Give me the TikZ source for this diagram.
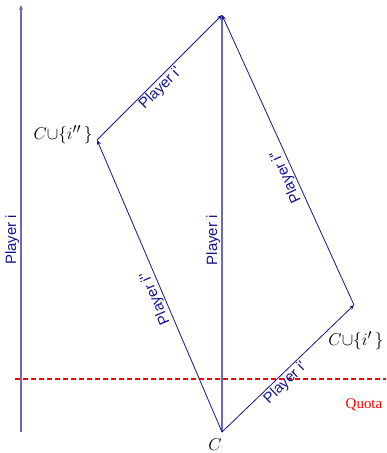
\documentclass[tikz,border=0pt]{standalone}
\usepackage{fontspec}
\setmainfont{Liberation Serif}
\newfontfamily\sansf{Liberation Sans}
\usetikzlibrary{arrows.meta}
\tikzset{
  x=1bp, y=-1bp,
  diag/.style={draw={rgb,255:red,20;green,20;blue,140}, line width=0.8bp, -{Stealth[length=5bp,width=4bp]}},
  vert/.style={draw={rgb,255:red,105;green,105;blue,190}, line width=1.6bp, -{Stealth[length=5bp,width=4bp]}},
  plabel/.style={text={rgb,255:red,20;green,20;blue,140}, font=\sansf\fontsize{15}{17}\selectfont, inner sep=1.5bp},
  mlabel/.style={font=\fontsize{19}{21}\selectfont, inner sep=0pt},
  quotaline/.style={draw=red, line width=1.1bp, dash pattern=on 5bp off 3bp},
}
\begin{document}
\begin{tikzpicture}
\useasboundingbox (0,0) rectangle (386,453);
\coordinate (axB) at (21,432);
\coordinate (axT) at (21,5);
\coordinate (C) at (222,432);
\coordinate (T) at (222,15);
\coordinate (A2) at (97,140);
\coordinate (A1) at (354,305);
\coordinate (qL) at (15,379);
\coordinate (qR) at (386,379);

% quota line
\path[quotaline] (qL) -- (qR);

% axis
\draw[vert] (axB) -- (axT);
\path (axB) -- (axT) node[pos=0.45, rotate=90, anchor=south, plabel] {Player i};

% central vertical
\draw[vert] (C) -- (T);
\path (C) -- (T) node[pos=0.46, rotate=90, anchor=south, plabel] {Player i};

% diagonals
\draw[diag] (C) -- (A2);
\path (C) -- (A2) node[pos=0.47, rotate=113.2, anchor=south, plabel] {Player i''};
\draw[diag] (A2) -- (T);
\path (A2) -- (T) node[pos=0.46, rotate=45, anchor=north, plabel] {Player i'};
\draw[diag] (C) -- (A1);
\path (C) -- (A1) node[pos=0.435, rotate=43.9, anchor=north, plabel] {Player i'};
\draw[diag] (A1) -- (T);
\path (A1) -- (T) node[pos=0.455, rotate=114.5, anchor=south, plabel] {Player i''};

% vertex labels
\node[mlabel] (lC) at (215,445) {$C$};
\node[mlabel] (lA2) at (63,135) {$C{\cup}\{i''\,\}$};
\node[mlabel] (lA1) at (356,341) {$C{\cup}\{i'\,\}$};
\node[text=red, font=\fontsize{15}{17}\selectfont] (lQ) at (364,405) {Quota};
\end{tikzpicture}
\end{document}
